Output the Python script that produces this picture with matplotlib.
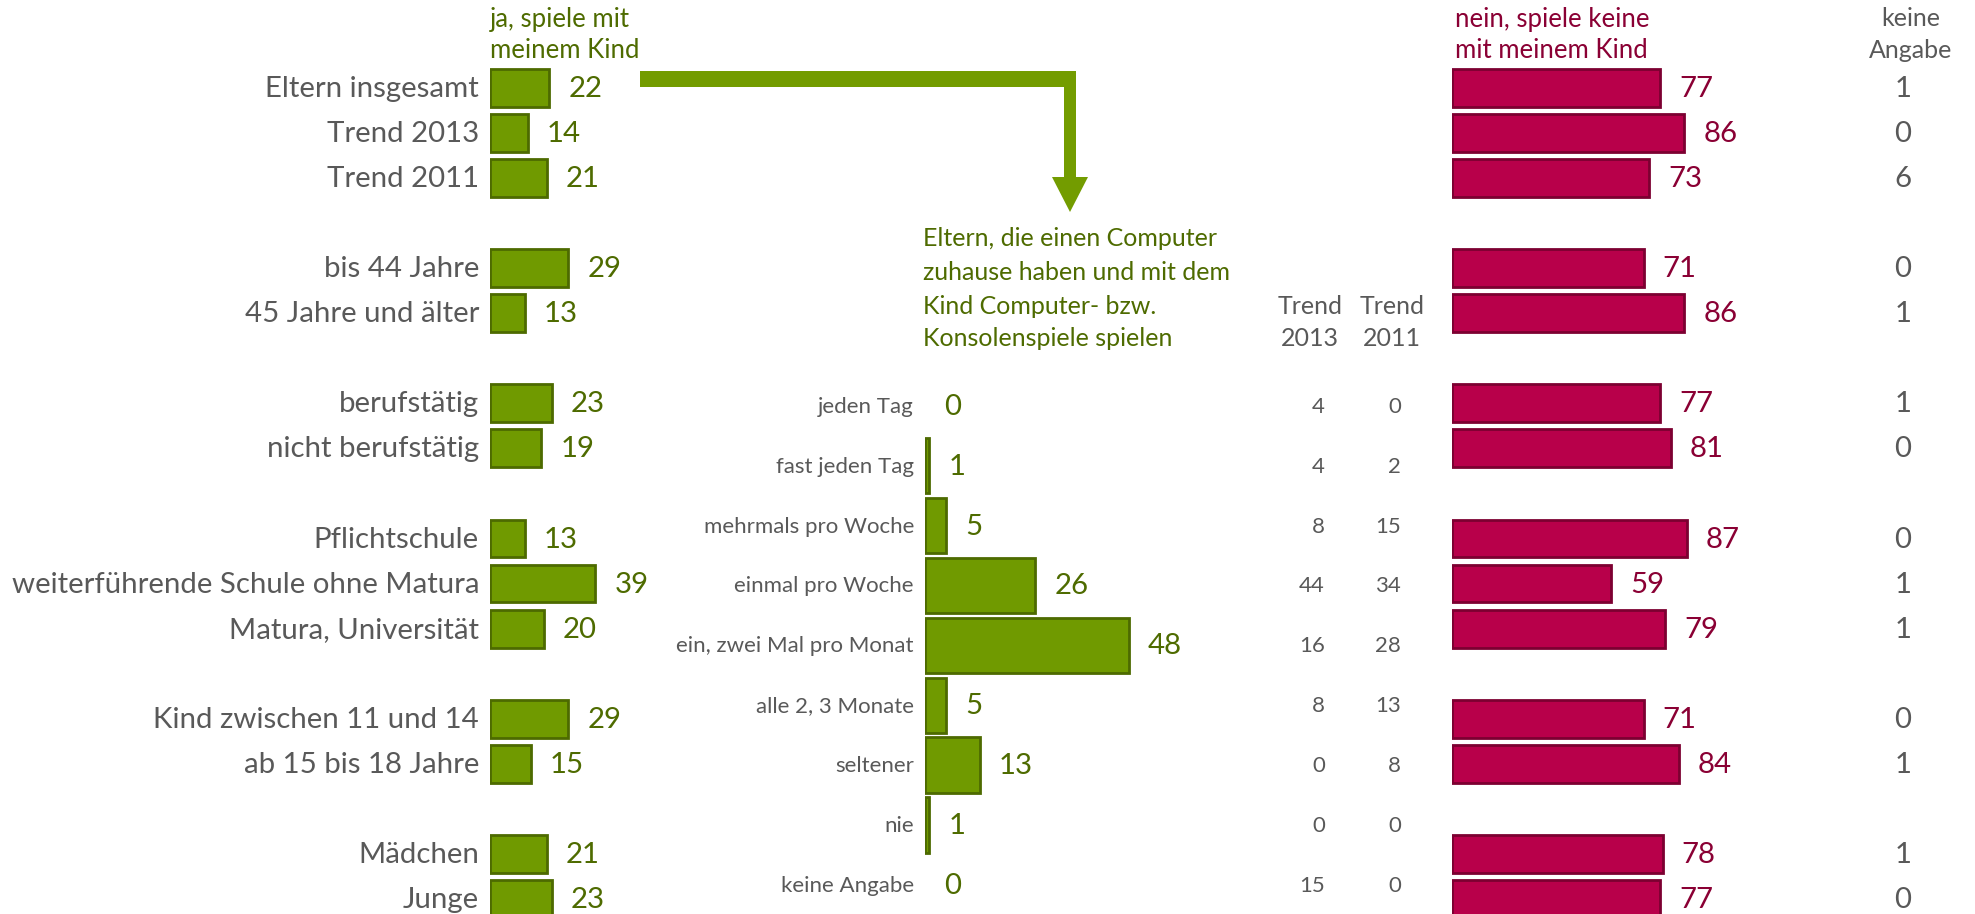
import matplotlib
matplotlib.use("Agg")
import matplotlib.pyplot as plt
from matplotlib import transforms
from matplotlib.patches import Polygon

# ---- data -------------------------------------------------------------
groups = [
    "Eltern insgesamt", "Trend 2013", "Trend 2011", None,
    "bis 44 Jahre", "45 Jahre und älter", None,
    "berufstätig", "nicht berufstätig", None,
    "Pflichtschule", "weiterführende Schule ohne Matura", "Matura, Universität", None,
    "Kind zwischen 11 und 14", "ab 15 bis 18 Jahre", None,
    "Mädchen", "Junge",
]
ja_values = [22, 14, 21, 29, 13, 23, 19, 13, 39, 20, 29, 15, 21, 23]
nein_values = [77, 86, 73, 71, 86, 77, 81, 87, 59, 79, 71, 84, 78, 77]
keine_angabe = [1, 0, 6, 0, 1, 1, 0, 0, 1, 1, 0, 1, 1, 0]

frequency = ["jeden Tag", "fast jeden Tag", "mehrmals pro Woche", "einmal pro Woche",
             "ein, zwei Mal pro Monat", "alle 2, 3 Monate", "seltener", "nie",
             "keine Angabe"]
freq_values = [0, 1, 5, 26, 48, 5, 13, 1, 0]
trend_2013 = [4, 4, 8, 44, 16, 8, 0, 0, 15]
trend_2011 = [0, 2, 15, 34, 28, 13, 8, 0, 0]

# ---- style ------------------------------------------------------------
W, H = 1975, 914
GREEN = "#709a00"
GREEN_EDGE = "#4d6a00"
GREEN_TEXT = "#4e6b00"
RED = "#b8004a"
RED_EDGE = "#7c0031"
RED_TEXT = "#8a0034"
GREY = "#595959"
FONT = "Lato"
BIG = 21.2
HEAD = 18.5
NOTE = 18
SMALL = 16

plt.rcParams["font.family"] = [FONT, "DejaVu Sans"]

fig = plt.figure(figsize=(W / 100, H / 100), dpi=100)
fig.patch.set_facecolor("white")


def px_axes(x0, width):
    return fig.add_axes([x0 / W, 0, width / W, 1])


def row_limits(first_px, step_px):
    return ((H - first_px) / step_px, -first_px / step_px)


# positions of populated rows
rows = [i for i, g in enumerate(groups) if g is not None]
labels = [g for g in groups if g is not None]

# left panel: "ja, spiele mit meinem Kind"
ax_l = px_axes(490, 270)
ax_l.set_xlim(0, 100)
ax_l.set_ylim(*row_limits(88, 45.05))
ax_l.barh(rows, ja_values, height=0.84, color=GREEN, edgecolor=GREEN_EDGE, linewidth=2)
off_lbl = transforms.offset_copy(ax_l.transData, fig=fig, x=-11, y=-1, units="dots")
off_val = transforms.offset_copy(ax_l.transData, fig=fig, x=19, y=-1, units="dots")
for r, lab, v in zip(rows, labels, ja_values):
    ax_l.text(0, r, lab, ha="right", va="center", fontsize=BIG, color=GREY, transform=off_lbl)
    ax_l.text(v, r, str(v), ha="left", va="center", fontsize=BIG, color=GREEN_TEXT, transform=off_val)

# right panel: "nein, spiele keine mit meinem Kind"
ax_r = px_axes(1452, 270)
ax_r.set_xlim(0, 100)
ax_r.set_ylim(*row_limits(88, 45.05))
ax_r.barh(rows, nein_values, height=0.84, color=RED, edgecolor=RED_EDGE, linewidth=2)
off_val_r = transforms.offset_copy(ax_r.transData, fig=fig, x=19, y=-1, units="dots")
ka_tr = transforms.offset_copy(
    transforms.blended_transform_factory(fig.transFigure, ax_r.transData),
    fig=fig, x=0, y=-1, units="dots")
for r, v, k in zip(rows, nein_values, keine_angabe):
    ax_r.text(v, r, str(v), ha="left", va="center", fontsize=BIG, color=RED_TEXT, transform=off_val_r)
    ax_r.text(1903 / W, r, str(k), ha="center", va="center", fontsize=BIG, color=GREY, transform=ka_tr)

# middle panel: how often parents play with their child
ax_m = px_axes(925, 424)
ax_m.set_xlim(0, 100)
ax_m.set_ylim(*row_limits(405.6, 59.96))
mrows = list(range(len(frequency)))
ax_m.barh([r for r, v in zip(mrows, freq_values) if v > 0],
          [v for v in freq_values if v > 0],
          height=0.93, color=GREEN, edgecolor=GREEN_EDGE, linewidth=2)
off_lbl_m = transforms.offset_copy(ax_m.transData, fig=fig, x=-11, y=-1, units="dots")
off_val_m = transforms.offset_copy(ax_m.transData, fig=fig, x=19, y=-1, units="dots")
tr_m = transforms.offset_copy(
    transforms.blended_transform_factory(fig.transFigure, ax_m.transData),
    fig=fig, x=0, y=-1, units="dots")
for r, lab, v, t13, t11 in zip(mrows, frequency, freq_values, trend_2013, trend_2011):
    ax_m.text(0, r, lab, ha="right", va="center", fontsize=SMALL, color=GREY, transform=off_lbl_m)
    ax_m.text(v, r, str(v), ha="left", va="center", fontsize=BIG, color=GREEN_TEXT, transform=off_val_m)
    ax_m.text(1325 / W, r, str(t13), ha="right", va="center", fontsize=SMALL, color=GREY, transform=tr_m)
    ax_m.text(1401 / W, r, str(t11), ha="right", va="center", fontsize=SMALL, color=GREY, transform=tr_m)

for ax in (ax_l, ax_r, ax_m):
    ax.axis("off")


def ftext(x, y, s, **kw):
    fig.text(x / W, 1 - y / H, s, va="center", **kw)


# column headers
ftext(490, 19, "ja, spiele mit", fontsize=HEAD, color=GREEN_TEXT, ha="left")
ftext(490, 50, "meinem Kind", fontsize=HEAD, color=GREEN_TEXT, ha="left")
ftext(1455, 19, "nein, spiele keine", fontsize=HEAD, color=RED_TEXT, ha="left")
ftext(1455, 50, "mit meinem Kind", fontsize=HEAD, color=RED_TEXT, ha="left")
ftext(1911, 19, "keine", fontsize=NOTE, color=GREY, ha="center")
ftext(1911, 50, "Angabe", fontsize=NOTE, color=GREY, ha="center")

for y, s in zip([239, 272, 306, 339],
                ["Eltern, die einen Computer", "zuhause haben und mit dem",
                 "Kind Computer- bzw.", "Konsolenspiele spielen"]):
    ftext(923, y, s, fontsize=NOTE, color=GREEN_TEXT, ha="left")

for x, year in ((1310, "2013"), (1392, "2011")):
    ftext(x, 306, "Trend", fontsize=NOTE, color=GREY, ha="center")
    ftext(x, 339, year, fontsize=NOTE, color=GREY, ha="center")

# elbow arrow from the "ja" column down to the detail block
arrow_px = [(640, 71), (1076, 71), (1076, 177), (1088, 177), (1070, 212),
            (1052, 177), (1064, 177), (1064, 87), (640, 87)]
fig.add_artist(Polygon([(x / W, 1 - y / H) for x, y in arrow_px], closed=True,
                       transform=fig.transFigure, facecolor="#739c00", edgecolor="none"))

fig.savefig("out.png", dpi=100, facecolor="white")
